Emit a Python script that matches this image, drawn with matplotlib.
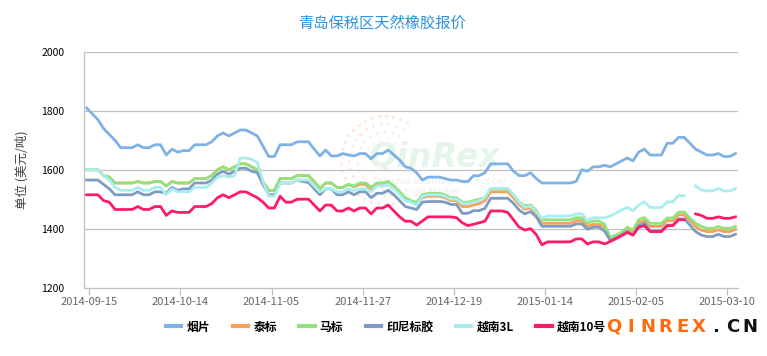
import numpy as np
import matplotlib
matplotlib.use('Agg')
import matplotlib.pyplot as plt
from matplotlib.lines import Line2D

plt.rcParams['font.family'] = ['Noto Sans CJK SC', 'DejaVu Sans']

# category axis labels, one every 16 trading days
tick_labels = ['2014-09-15', '2014-10-14', '2014-11-05', '2014-11-27',
               '2014-12-19', '2015-01-14', '2015-02-05', '2015-03-10']
tick_step = 16

series_names = ['烟片', '泰标', '马标', '印尼标胶', '越南3L', '越南10号']

# prices in USD/ton (115 trading days)
yanpian = [1810, 1790, 1770, 1740, 1720, 1700, 1675, 1675, 1675, 1685, 1675, 1675, 1685, 1685, 1650, 1670,
           1660, 1665, 1665, 1685, 1685, 1685, 1695, 1715, 1725, 1715, 1725, 1735, 1735, 1725, 1715, 1680,
           1645, 1645, 1685, 1685, 1685, 1695, 1695, 1695, 1670, 1647, 1667, 1647, 1647, 1655, 1650, 1647,
           1655, 1655, 1637, 1655, 1655, 1667, 1650, 1633, 1610, 1605, 1590, 1565, 1575, 1575, 1575, 1570,
           1565, 1565, 1560, 1560, 1580, 1580, 1590, 1620, 1620, 1620, 1620, 1595, 1580, 1580, 1590, 1570,
           1555, 1555, 1555, 1555, 1555, 1555, 1560, 1600, 1595, 1610, 1610, 1615, 1610, 1620, 1630, 1640,
           1630, 1660, 1670, 1650, 1650, 1650, 1690, 1690, 1710, 1710, 1690, 1670, 1660, 1650, 1650, 1655,
           1645, 1645, 1655]
taibiao = [1600, 1600, 1600, 1580, 1575, 1555, 1555, 1555, 1555, 1560, 1555, 1555, 1560, 1560, 1545, 1560,
           1555, 1555, 1555, 1570, 1570, 1570, 1580, 1600, 1610, 1600, 1610, 1620, 1620, 1610, 1600, 1560,
           1530, 1530, 1570, 1570, 1570, 1580, 1580, 1580, 1560, 1535, 1555, 1555, 1540, 1540, 1550, 1542,
           1550, 1550, 1533, 1550, 1550, 1555, 1540, 1520, 1497, 1490, 1485, 1505, 1510, 1510, 1510, 1505,
           1495, 1495, 1475, 1475, 1480, 1485, 1495, 1525, 1525, 1525, 1525, 1505, 1482, 1466, 1470, 1452,
           1418, 1418, 1418, 1418, 1418, 1418, 1427, 1427, 1408, 1414, 1414, 1405, 1363, 1372, 1382, 1398,
           1386, 1420, 1427, 1408, 1408, 1408, 1427, 1427, 1447, 1447, 1427, 1407, 1395, 1390, 1390, 1396,
           1390, 1390, 1397]
mabiao = [1600, 1600, 1600, 1580, 1575, 1555, 1555, 1555, 1555, 1560, 1555, 1555, 1560, 1560, 1545, 1560,
          1555, 1555, 1555, 1570, 1570, 1570, 1580, 1600, 1610, 1600, 1610, 1620, 1620, 1610, 1600, 1560,
          1530, 1530, 1570, 1570, 1570, 1580, 1580, 1580, 1560, 1535, 1555, 1555, 1540, 1540, 1550, 1545,
          1555, 1555, 1540, 1555, 1555, 1560, 1545, 1525, 1505, 1495, 1490, 1515, 1520, 1520, 1520, 1515,
          1505, 1505, 1490, 1490, 1495, 1500, 1505, 1535, 1535, 1535, 1535, 1515, 1490, 1478, 1480, 1463,
          1430, 1430, 1430, 1430, 1430, 1430, 1437, 1437, 1418, 1426, 1426, 1415, 1370, 1378, 1388, 1405,
          1395, 1430, 1438, 1418, 1418, 1418, 1436, 1436, 1456, 1456, 1436, 1418, 1408, 1401, 1401, 1407,
          1401, 1401, 1407]
indonesia = [1565, 1565, 1565, 1550, 1535, 1515, 1515, 1515, 1515, 1525, 1515, 1515, 1525, 1525, 1520, 1540,
             1530, 1535, 1535, 1555, 1555, 1555, 1565, 1585, 1595, 1585, 1595, 1605, 1605, 1595, 1590, 1550,
             1515, 1515, 1555, 1555, 1555, 1565, 1560, 1557, 1535, 1515, 1535, 1535, 1515, 1515, 1525, 1515,
             1525, 1525, 1505, 1520, 1520, 1530, 1515, 1495, 1475, 1470, 1465, 1490, 1492, 1492, 1492, 1490,
             1482, 1482, 1452, 1452, 1461, 1461, 1469, 1503, 1503, 1503, 1503, 1486, 1463, 1450, 1458, 1440,
             1408, 1408, 1408, 1408, 1408, 1408, 1416, 1416, 1398, 1405, 1405, 1392, 1360, 1368, 1378, 1390,
             1378, 1410, 1418, 1393, 1393, 1393, 1412, 1412, 1433, 1433, 1412, 1390, 1378, 1373, 1373, 1381,
             1373, 1373, 1381]
vietnam_3l = [1600, 1600, 1600, 1580, 1565, 1540, 1530, 1530, 1530, 1540, 1530, 1530, 1540, 1540, 1515, 1535,
              1525, 1525, 1525, 1540, 1540, 1540, 1555, 1575, 1580, 1575, 1580, 1640, 1640, 1635, 1625, 1560,
              1510, 1510, 1555, 1555, 1555, 1565, 1565, 1565, 1545, 1525, 1535, 1535, 1525, 1525, 1535, 1530,
              1535, 1535, 1525, 1545, 1545, 1550, 1535, 1515, 1495, 1490, 1480, 1510, 1515, 1515, 1515, 1510,
              1500, 1500, 1485, 1485, 1490, 1495, 1505, 1537, 1537, 1537, 1537, 1515, 1490, 1472, 1476, 1458,
              1435, 1443, 1443, 1443, 1443, 1443, 1450, 1450, 1427, 1437, 1437, 1437, 1443, 1453, 1463, 1472,
              1461, 1480, 1491, 1472, 1472, 1472, 1491, 1491, 1512, 1512, np.nan, 1545, 1531, 1528, 1528, 1536,
              1528, 1528, 1536]
vietnam_10 = [1515, 1515, 1515, 1495, 1490, 1465, 1465, 1465, 1465, 1475, 1465, 1465, 1475, 1475, 1445, 1460,
              1455, 1455, 1455, 1475, 1475, 1475, 1485, 1505, 1515, 1505, 1515, 1525, 1525, 1515, 1505, 1490,
              1470, 1470, 1510, 1490, 1490, 1500, 1500, 1500, 1480, 1460, 1480, 1480, 1460, 1460, 1470, 1460,
              1470, 1470, 1450, 1470, 1470, 1480, 1460, 1440, 1425, 1425, 1412, 1426, 1440, 1440, 1440, 1440,
              1440, 1437, 1420, 1410, 1415, 1420, 1425, 1460, 1460, 1460, 1455, 1430, 1405, 1395, 1400, 1380,
              1345, 1355, 1355, 1355, 1355, 1355, 1365, 1365, 1348, 1355, 1355, 1348, 1356, 1366, 1376, 1387,
              1378, 1405, 1410, 1390, 1390, 1390, 1410, 1410, 1430, 1430, np.nan, 1450, 1445, 1435, 1435, 1440,
              1435, 1435, 1440]

colors = ['#7EB2E6', '#F6A25C', '#92E27C', '#7E9BC3', '#AAEDEE', '#FF1A6C']

W, H = 767, 356
fig = plt.figure(figsize=(W / 100, H / 100), dpi=100)

# background layer for watermark decorations, in pixel coords
bg = fig.add_axes([0, 0, 1, 1], zorder=0)
bg.set_xlim(0, W)
bg.set_ylim(H, 0)
bg.axis('off')

# faint dotted sun of the QinRex logo
for r, s in zip([20, 28, 36, 44], [2, 3.5, 5, 6]):
    ang = np.linspace(np.deg2rad(60), np.deg2rad(280), int(r * 0.55))
    bg.scatter(385 + r * np.cos(ang), 160 - r * np.sin(ang), s=s, color='#FCE6D6',
               alpha=0.8, linewidths=0)
bg.text(435, 157, 'QinRex', fontsize=24, fontweight='bold', style='italic',
        color='#E6F5EA', ha='center', va='center', family='DejaVu Sans')
bg.text(440, 182, 'Qingdao International Rubber', fontsize=6.5, style='italic',
        color='#EEEEEE', ha='center', va='center', family='DejaVu Sans')
bg.text(420, 191, 'Exchange Market', fontsize=6.5, style='italic',
        color='#EEEEEE', ha='center', va='center', family='DejaVu Sans')

# main chart
ax = fig.add_axes([83.7 / W, 1 - 287.5 / H, (738.3 - 83.7) / W, (287.5 - 52) / H], zorder=1)
ax.set_facecolor('none')

x = np.arange(len(yanpian))
all_series = [yanpian, taibiao, mabiao, indonesia, vietnam_3l, vietnam_10]
for vals, name, c in zip(all_series, series_names, colors):
    ax.plot(x, vals, color=c, lw=2.0, label=name, solid_joinstyle='round')

ax.set_xlim(-0.5, len(x) - 0.5)
ax.set_ylim(1200, 2000)
ax.set_yticks(np.arange(1200, 2001, 200))
ax.grid(axis='y', color='#C0C0C0', lw=0.9)
ax.set_axisbelow(True)

ax.set_xticks(np.arange(len(tick_labels)) * tick_step + 0.5)
ax.set_xticklabels(tick_labels, fontsize=8, color='#666666')
ax.tick_params(axis='x', direction='out', length=5, width=0.9, color='#C0C0C0', pad=2)
ax.tick_params(axis='y', length=0, labelsize=7.5, labelcolor='#000000', pad=14)

for sp in ['top', 'right']:
    ax.spines[sp].set_visible(False)
for sp in ['left', 'bottom']:
    ax.spines[sp].set_color('#C0C0C0')
    ax.spines[sp].set_linewidth(0.9)

ax.set_ylabel('单位 (美元/吨)', fontsize=9, color='#404040', labelpad=9)

fig.text(382 / W, 1 - 23 / H, '青岛保税区天然橡胶报价', fontsize=11, color='#2A93DC',
         ha='center', va='center')

handles = [Line2D([], [], color=c, lw=3) for c in colors]
fig.legend(handles, series_names, loc='center', bbox_to_anchor=(386 / W, 1 - 327 / H),
           ncol=6, frameon=False, handlelength=1.3, handletextpad=0.45,
           columnspacing=1.9, prop={'weight': 'bold', 'size': 8.5})

# QINREX.CN site mark
mark = 'QINREX.CN'
for k, ch in enumerate(mark):
    bg.text(614 + k * 17.0, 327, ch, fontsize=13, fontweight='bold',
            color='#FF6A0A' if k < 6 else '#111111', ha='center', va='center',
            family='DejaVu Sans')

fig.savefig('out.png', dpi=100)
